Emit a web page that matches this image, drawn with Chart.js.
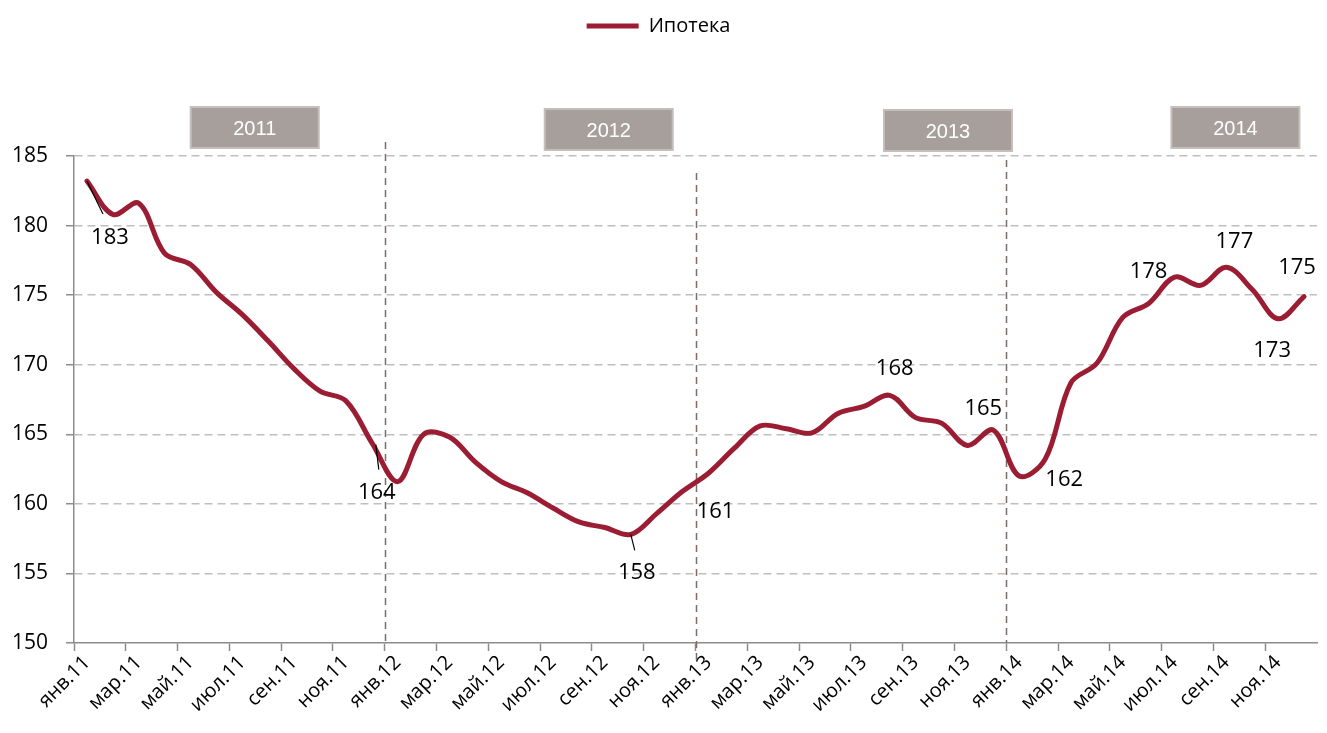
<!DOCTYPE html>
<html>
<head>
<meta charset="utf-8">
<script src="https://cdn.jsdelivr.net/npm/chart.js@4.4.0/dist/chart.umd.min.js"></script>
<style>
body { margin: 0; background: #fff; }
#wrap { width: 1327px; height: 733px; position: relative; }
</style>
</head>
<body>
<div id="wrap"><canvas id="mycanvas"></canvas></div>
<script>
// месяцы и годы для подписей оси X
var months = ['янв', 'фев', 'мар', 'апр', 'май', 'июн', 'июл', 'авг', 'сен', 'окт', 'ноя', 'дек'];
var yearShort = ['11', '12', '13', '14'];
var yearNames = ['2011', '2012', '2013', '2014'];

// Ипотека, помесячно янв.11 - дек.14
var ipoteka = [
	183.2, 180.8, 181.6, 178.0, 177.2, 175.2, 173.6, 171.7, 169.7, 168.1, 167.4, 164.4,
	161.6, 165.0, 164.8, 163.0, 161.6, 160.8, 159.7, 158.7, 158.3, 157.8, 159.3, 160.9,
	162.2, 164.0, 165.6, 165.4, 165.1, 166.5, 167.0, 167.8, 166.2, 165.8, 164.2, 165.3,
	162.0, 163.2, 168.7, 170.1, 173.4, 174.4, 176.3, 175.7, 177.0, 175.4, 173.3, 174.9
];

// подписи значений на графике
var labelIdx = [0, 11, 21, 23, 31, 35, 36, 42, 44, 46, 47];
var labelText = ['183', '164', '158', '161', '168', '165', '162', '178', '177', '173', '175'];

var yTicks = [150, 155, 160, 165, 170, 175, 180, 185];

var labels = [];
for (var y in yearShort) {
	for (var m in months) {
		labels.push(months[m] + '.' + yearShort[y]);
	}
}

var lineColor = 'rgb(155, 29, 51)';
var font = "'Open Sans', 'Noto Sans', sans-serif";

var extras = {
	id: 'extras',
	beforeInit: function(chart) {
		var fit = chart.legend.fit;
		chart.legend.fit = function() {
			fit.bind(chart.legend)();
			this.height += 110;
		};
	},
	beforeDatasetsDraw: function(chart) {
		var ctx = chart.ctx, x = chart.scales.x, area = chart.chartArea;
		// разделители лет
		var lines = [[11.5, -14, 0], [23.5, 17, 22], [35.5, 4, 0]];
		ctx.save();
		ctx.strokeStyle = 'rgb(122, 110, 106)';
		ctx.lineWidth = 1.5;
		ctx.setLineDash([7, 5]);
		for (var i = 0; i < lines.length; i++) {
			var px = Math.round(x.getPixelForValue(lines[i][0])) + 0.5;
			ctx.beginPath();
			ctx.moveTo(px, area.top + lines[i][1]);
			ctx.lineTo(px, area.bottom + lines[i][2]);
			ctx.stroke();
		}
		ctx.restore();
	},
	afterDraw: function(chart) {
		var ctx = chart.ctx, x = chart.scales.x, area = chart.chartArea;
		// плашки с годами
		var boxes = [[6.48, -49], [20.15, -47], [33.25, -46], [44.35, -49]];
		ctx.save();
		for (var i = 0; i < boxes.length; i++) {
			var cx = x.getPixelForValue(boxes[i][0]);
			var top = area.top + boxes[i][1];
			ctx.fillStyle = 'rgb(167, 159, 155)';
			ctx.fillRect(cx - 64, top, 128, 41);
			ctx.strokeStyle = 'rgb(196, 191, 189)';
			ctx.lineWidth = 2;
			ctx.strokeRect(cx - 64, top, 128, 41);
			ctx.fillStyle = '#fff';
			ctx.font = "20px 'Liberation Sans Narrow', 'Liberation Sans', Arial, sans-serif";
			ctx.textAlign = 'center';
			ctx.textBaseline = 'middle';
			ctx.fillText(yearNames[i], cx, top + 22);
		}
		ctx.restore();

		// подписи данных
		var offs = [[23, 57], [5, 50], [6, 38], [33, 20], [5, -27], [-10, -21], [45, 4], [-26, -5], [8, -26], [-6, 32], [-7, -29]];
		var leader = [[0, 0, 16, 33], [4, 2, 7, 27], [0, 0, 4, 16]];
		var meta = chart.getDatasetMeta(0);
		ctx.save();
		ctx.font = '22px ' + font;
		ctx.fillStyle = '#000';
		ctx.textAlign = 'center';
		ctx.textBaseline = 'middle';
		for (var j = 0; j < labelIdx.length; j++) {
			var pt = meta.data[labelIdx[j]];
			ctx.fillText(labelText[j], pt.x + offs[j][0], pt.y + offs[j][1]);
			if (j < leader.length) {
				ctx.beginPath();
				ctx.strokeStyle = '#000';
				ctx.lineWidth = 1.2;
				ctx.moveTo(pt.x + leader[j][0], pt.y + leader[j][1]);
				ctx.lineTo(pt.x + leader[j][2], pt.y + leader[j][3]);
				ctx.stroke();
			}
		}
		ctx.restore();
	}
};

var ctx = document.getElementById('mycanvas');

var LineGraph = new Chart(ctx, {
	type: 'line',
	data: {
		labels: labels,
		datasets: [{
			label: 'Ипотека',
			data: ipoteka,
			fill: false,
			borderColor: lineColor,
			backgroundColor: lineColor,
			borderWidth: 5,
			borderCapStyle: 'round',
			tension: 0.35,
			pointRadius: 0,
			pointHoverRadius: 0
		}]
	},
	options: {
		responsive: true,
		maintainAspectRatio: false,
		animation: false,
		layout: { padding: { right: 10, top: 0, left: 0, bottom: 0 } },
		plugins: {
			tooltip: { enabled: false },
			legend: {
				position: 'top',
				labels: {
					usePointStyle: true,
					pointStyle: 'line',
					pointStyleWidth: 52,
					padding: 16,
					color: '#000',
					font: { family: font, size: 20 }
				}
			}
		},
		scales: {
			x: {
				offset: true,
				afterFit: function(scale) { scale.height = 90; },
				grid: {
					offset: true,
					drawOnChartArea: false,
					tickLength: 8,
					tickWidth: 1.5,
					tickColor: function(c) { return c.index % 2 === 0 ? '#8c8c8c' : 'rgba(0,0,0,0)'; }
				},
				border: { color: '#8c8c8c', width: 1.5 },
				ticks: {
					autoSkip: false,
					minRotation: 45,
					maxRotation: 45,
					padding: 0,
					color: '#000',
					font: { family: font, size: 20 },
					callback: function(val, i) { return i % 2 === 0 ? labels[i] : ''; }
				}
			},
			y: {
				min: yTicks[0],
				max: yTicks[yTicks.length - 1],
				afterFit: function(scale) { scale.width = 74; },
				afterBuildTicks: function(scale) {
					scale.ticks = yTicks.map(function(v) { return { value: v }; });
				},
				grid: {
					color: function(c) { return c.tick && c.tick.value === 150 ? 'rgba(0,0,0,0)' : '#bfbfbf'; },
					lineWidth: 1.5,
					tickLength: 8,
					tickColor: '#8c8c8c',
					tickWidth: 1.5
				},
				border: { color: '#8c8c8c', width: 1.5, dash: [8, 5] },
				ticks: {
					padding: 18,
					color: '#000',
					font: { family: font, size: 21 }
				}
			}
		}
	},
	plugins: [extras]
});
</script>
</body>
</html>
